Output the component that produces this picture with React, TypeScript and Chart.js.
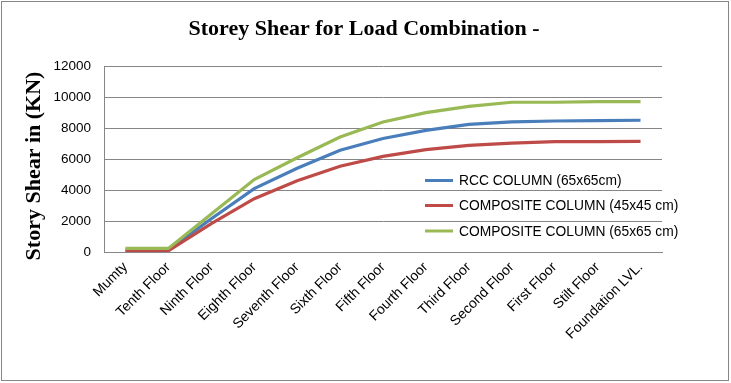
import React, { useEffect, useRef } from "react";
import { Chart, registerables } from "chart.js";

Chart.register(...registerables);

const categories = [
  "Mumty",
  "Tenth Floor",
  "Ninth Floor",
  "Eighth Floor",
  "Seventh Floor",
  "Sixth Floor",
  "Fifth Floor",
  "Fourth Floor",
  "Third Floor",
  "Second Floor",
  "First Floor",
  "Stilt Floor",
  "Foundation LVL.",
];

const rccColumn65 = [120, 120, 2150, 4090, 5400, 6560, 7320, 7850, 8230, 8400, 8450, 8480, 8500];
const compositeColumn45 = [80, 80, 1830, 3440, 4600, 5530, 6170, 6600, 6880, 7030, 7120, 7120, 7140];
const compositeColumn65 = [230, 230, 2450, 4670, 6080, 7420, 8390, 8990, 9400, 9660, 9660, 9700, 9700];

const seriesNames = [
  "RCC COLUMN (65x65cm)",
  "COMPOSITE COLUMN (45x45 cm)",
  "COMPOSITE COLUMN (65x65 cm)",
];
const seriesColors = ["#4A7EBB", "#BE4B48", "#98B954"];

const yTicks = [0, 2000, 4000, 6000, 8000, 10000, 12000];

const titleText = "Storey Shear for Load Combination -";
const yTitleText = "Story Shear in (KN)";

const serifBold = "bold 22px 'Liberation Serif', 'Times New Roman', serif";

const frameAndLegend = {
  id: "frameAndLegend",
  beforeDraw(chart: any) {
    const ctx = chart.ctx;
    ctx.save();
    ctx.fillStyle = "#ffffff";
    ctx.fillRect(0, 0, chart.width, chart.height);
    ctx.restore();
  },
  afterDraw(chart: any) {
    const ctx = chart.ctx;
    ctx.save();
    ctx.strokeStyle = "#868686";
    ctx.lineWidth = 1;
    ctx.strokeRect(1.5, 1.5, chart.width - 4, chart.height - 4);

    // chart title
    ctx.fillStyle = "#000000";
    ctx.font = serifBold;
    ctx.textAlign = "center";
    ctx.textBaseline = "middle";
    ctx.fillText(titleText, 364, 29);

    // y-axis title
    ctx.save();
    ctx.translate(33, 166);
    ctx.rotate(-Math.PI / 2);
    ctx.fillText(yTitleText, 0, 1);
    ctx.restore();

    // legend
    const x0 = 425;
    const rows = [180.5, 205.5, 231];
    ctx.font = "13.8px 'Liberation Sans', Arial, sans-serif";
    ctx.textBaseline = "middle";
    ctx.textAlign = "left";
    seriesNames.forEach((name, i) => {
      ctx.strokeStyle = seriesColors[i];
      ctx.lineWidth = 3;
      ctx.beginPath();
      ctx.moveTo(x0, rows[i]);
      ctx.lineTo(x0 + 28, rows[i]);
      ctx.stroke();
      ctx.fillStyle = "#000000";
      ctx.fillText(name, x0 + 34, rows[i] + 1);
    });
    ctx.restore();
  },
};

export default function App() {
  const ref = useRef<HTMLCanvasElement | null>(null);

  useEffect(() => {
    document.body.style.margin = "0";
    if (!ref.current) return;
    const data = [rccColumn65, compositeColumn45, compositeColumn65];
    const chart = new Chart(ref.current, {
      type: "line",
      data: {
        labels: categories,
        datasets: seriesNames.map((name, i) => ({
          label: name,
          data: data[i],
          borderColor: seriesColors[i],
          backgroundColor: seriesColors[i],
          borderWidth: 3.2,
          pointRadius: 0,
          tension: 0,
          fill: false,
          order: 3 - i,
        })),
      },
      options: {
        responsive: false,
        animation: false,
        layout: { padding: { left: 0, right: 69, top: 66, bottom: 0 } },
        plugins: {
          legend: { display: false },
          tooltip: { enabled: false },
          title: { display: false },
        },
        scales: {
          x: {
            type: "category",
            offset: true,
            grid: { display: false, drawTicks: false },
            border: { display: true, color: "#868686" },
            ticks: {
              color: "#000000",
              font: { family: "'Liberation Sans', Arial, sans-serif", size: 14 },
              minRotation: 45,
              maxRotation: 45,
              autoSkip: false,
              padding: 7,
            },
            afterFit(scale: any) {
              scale.height = 131;
            },
          },
          y: {
            min: 0,
            max: 12000,
            afterBuildTicks(scale: any) {
              scale.ticks = yTicks.map((v) => ({ value: v }));
            },
            grid: { color: "#868686", drawTicks: false, lineWidth: 1 },
            border: { display: true, color: "#868686" },
            ticks: {
              color: "#000000",
              font: { family: "'Liberation Sans', Arial, sans-serif", size: 13.5 },
              padding: 13,
              callback: (v: any) => String(v),
            },
            title: { display: false },
            afterFit(scale: any) {
              scale.width = 104;
            },
          },
        },
      },
      plugins: [frameAndLegend],
    });
    return () => chart.destroy();
  }, []);

  return (
    <div style={{ width: 731, height: 383 }}>
      <canvas ref={ref} width={731} height={383} style={{ display: "block" }} />
    </div>
  );
}
